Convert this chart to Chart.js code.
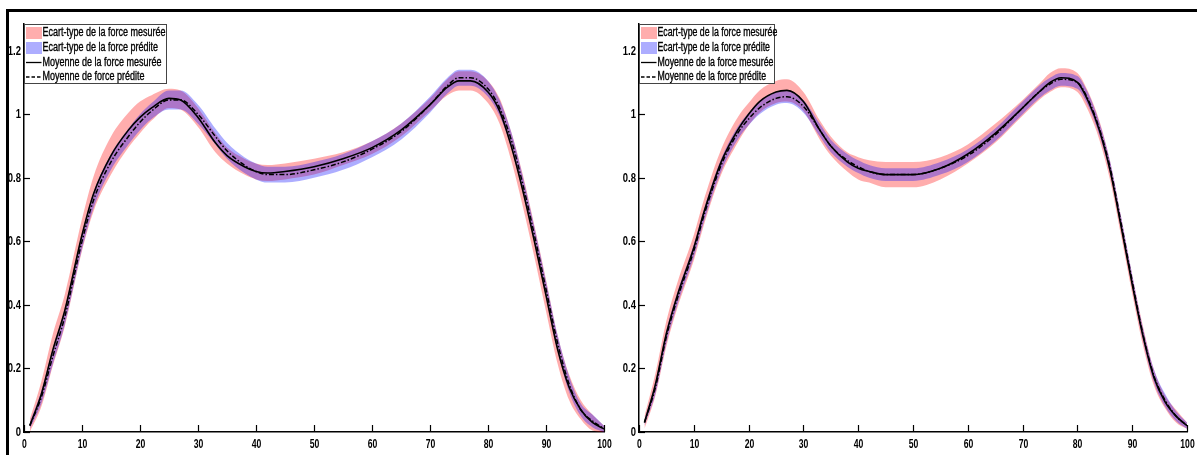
<!DOCTYPE html>
<html>
<head>
<meta charset="utf-8">
<script src="https://cdn.jsdelivr.net/npm/chart.js@4"></script>
<style>
  body { margin: 0; background: #fff; }
  #wrap { position: relative; width: 1197px; height: 455px; overflow: hidden; }
  #c1 { position: absolute; left: 0; top: 0; }
  #c2 { position: absolute; left: 615px; top: 0; }
  #frame { position: absolute; left: 6px; top: 9px; right: 0; bottom: -5px;
           border-top: 3px solid #000; border-left: 3px solid #000; pointer-events: none; }
</style>
</head>
<body>
<div id="wrap">
  <canvas id="c1" width="614" height="455"></canvas>
  <canvas id="c2" width="582" height="455"></canvas>
  <div id="frame"></div>
</div>
<script>
// Abscissa (% of cycle) shared by both panels
const xs = [1, 3, 5, 7, 10, 12, 15, 18, 20, 22, 25, 27, 30, 33, 35, 38, 40, 42, 45, 50,
            55, 60, 65, 70, 73, 75, 77, 80, 82, 84, 86, 88, 90, 92, 94, 96, 98, 100];

// Left panel
const measMeanL = [0.02, 0.12, 0.26, 0.38, 0.62, 0.75, 0.87, 0.95, 0.99, 1.02, 1.05, 1.045, 0.99, 0.91, 0.87, 0.835, 0.82, 0.815, 0.82, 0.835,
                   0.86, 0.895, 0.95, 1.03, 1.085, 1.105, 1.105, 1.07, 1.01, 0.9, 0.76, 0.6, 0.43, 0.26, 0.14, 0.07, 0.03, 0.01];
const measStdL  = [0.02, 0.04, 0.05, 0.05, 0.05, 0.055, 0.06, 0.055, 0.05, 0.04, 0.03, 0.03, 0.03, 0.03, 0.025, 0.025, 0.025, 0.025, 0.025, 0.025,
                   0.02, 0.02, 0.02, 0.02, 0.025, 0.03, 0.03, 0.035, 0.04, 0.045, 0.05, 0.05, 0.05, 0.045, 0.04, 0.03, 0.025, 0.01];
const predMeanL = [0.02, 0.11, 0.24, 0.36, 0.6, 0.73, 0.85, 0.93, 0.975, 1.01, 1.045, 1.045, 1.0, 0.93, 0.885, 0.84, 0.82, 0.81, 0.81, 0.825,
                   0.85, 0.89, 0.945, 1.03, 1.09, 1.115, 1.115, 1.08, 1.02, 0.92, 0.78, 0.62, 0.45, 0.28, 0.15, 0.07, 0.035, 0.01];
const predStdL  = [0.01, 0.02, 0.025, 0.025, 0.025, 0.025, 0.025, 0.025, 0.025, 0.025, 0.03, 0.03, 0.03, 0.025, 0.025, 0.025, 0.025, 0.025, 0.025, 0.025,
                   0.025, 0.025, 0.025, 0.025, 0.025, 0.025, 0.025, 0.025, 0.025, 0.025, 0.025, 0.025, 0.025, 0.025, 0.025, 0.02, 0.02, 0.01];

// Right panel
const measMeanR = [0.03, 0.15, 0.31, 0.43, 0.58, 0.7, 0.85, 0.95, 1.0, 1.04, 1.07, 1.075, 1.04, 0.95, 0.9, 0.85, 0.83, 0.82, 0.81, 0.81,
                   0.83, 0.875, 0.94, 1.02, 1.07, 1.1, 1.115, 1.1, 1.04, 0.95, 0.82, 0.645, 0.465, 0.3, 0.17, 0.095, 0.05, 0.02];
const measStdR  = [0.02, 0.035, 0.04, 0.04, 0.04, 0.04, 0.04, 0.04, 0.035, 0.035, 0.035, 0.035, 0.03, 0.03, 0.03, 0.03, 0.035, 0.035, 0.04, 0.04,
                   0.035, 0.03, 0.03, 0.025, 0.025, 0.03, 0.03, 0.03, 0.03, 0.03, 0.03, 0.03, 0.03, 0.03, 0.025, 0.02, 0.02, 0.01];
const predMeanR = [0.03, 0.14, 0.3, 0.42, 0.57, 0.69, 0.84, 0.94, 0.985, 1.02, 1.05, 1.055, 1.025, 0.95, 0.9, 0.855, 0.835, 0.82, 0.81, 0.81,
                   0.83, 0.87, 0.935, 1.02, 1.07, 1.095, 1.11, 1.1, 1.045, 0.955, 0.83, 0.655, 0.475, 0.305, 0.175, 0.1, 0.05, 0.02];
const predStdR  = [0.01, 0.02, 0.02, 0.02, 0.02, 0.02, 0.02, 0.02, 0.02, 0.02, 0.02, 0.02, 0.02, 0.02, 0.02, 0.02, 0.02, 0.02, 0.02, 0.02,
                   0.02, 0.02, 0.02, 0.02, 0.02, 0.02, 0.02, 0.02, 0.02, 0.02, 0.02, 0.02, 0.02, 0.02, 0.02, 0.02, 0.015, 0.01];

// Axis ticks
const xTicks = [0, 10, 20, 30, 40, 50, 60, 70, 80, 90, 100];
const yTicks = [0, 0.2, 0.4, 0.6, 0.8, 1, 1.2];

const labelsL = ['Ecart-type de la force mesurée', 'Ecart-type de la force prédite',
                 'Moyenne de la force mesurée', 'Moyenne de force prédite'];
const labelsR = ['Ecart-type de la force mesurée', 'Ecart-type de la force prédite',
                 'Moyenne de la force mesurée', 'Moyenne de la force prédite'];

const pink = 'rgba(255, 0, 0, 0.32)';
const blue = 'rgba(0, 0, 255, 0.32)';
const sans = '"Liberation Sans", Arial, sans-serif';

const pts = (ys) => xs.map((x, i) => ({ x, y: ys[i] }));
const band = (m, s, sign) => xs.map((x, i) => ({ x, y: m[i] + sign * s[i] }));

// squeezed text, the figure uses a narrow face
function narrowText(ctx, text, x, y, sx, align, stroke) {
    ctx.save();
    ctx.translate(x, y);
    ctx.scale(sx, 1);
    ctx.textAlign = align;
    ctx.fillText(text, 0, 0);
    if (stroke) {
        ctx.lineWidth = stroke;
        ctx.strokeStyle = ctx.fillStyle;
        ctx.strokeText(text, 0, 0);
    }
    ctx.restore();
}

// ticks drawn inside the axes, labels outside, like the original figure
const innerTicks = {
    id: 'innerTicks',
    afterDraw(chart) {
        const ctx = chart.ctx;
        const a = chart.chartArea;
        const sx = chart.scales.x, sy = chart.scales.y;
        ctx.save();
        ctx.strokeStyle = '#000';
        ctx.fillStyle = '#000';
        ctx.lineWidth = 1.2;
        ctx.font = 'bold 13.5px ' + sans;
        ctx.textBaseline = 'top';
        sx.ticks.forEach(t => {
            const px = Math.round(sx.getPixelForValue(t.value)) + 0.5;
            ctx.beginPath(); ctx.moveTo(px, a.bottom); ctx.lineTo(px, a.bottom - 7); ctx.stroke();
            narrowText(ctx, String(t.value), px, a.bottom + 6, 0.64, 'center');
        });
        ctx.textBaseline = 'middle';
        sy.ticks.forEach(t => {
            const py = Math.round(sy.getPixelForValue(t.value)) + 0.5;
            ctx.beginPath(); ctx.moveTo(a.left, py); ctx.lineTo(a.left + 6, py); ctx.stroke();
            narrowText(ctx, String(Math.round(t.value * 10) / 10), a.left - 3, py, 0.7, 'right');
        });
        ctx.restore();
    }
};

// boxed legend in the upper-left corner of the plot
const boxLegend = {
    id: 'boxLegend',
    afterDraw(chart, args, opts) {
        const ctx = chart.ctx;
        const a = chart.chartArea;
        const x0 = a.left + 0.5, y0 = a.top + 0.5, w = opts.width, h = 59;
        ctx.save();
        ctx.fillStyle = '#fff';
        ctx.fillRect(x0, y0, w, h);
        ctx.strokeStyle = '#444';
        ctx.lineWidth = 1;
        ctx.strokeRect(x0, y0, w, h);
        ctx.font = '12px ' + sans;
        ctx.textBaseline = 'middle';
        const rows = [8.5, 23.5, 38, 52.5];
        chart.data.datasets.filter(d => d.legendText)
            .sort((p, q) => p.legendRank - q.legendRank)
            .forEach((d, i) => {
                const cy = y0 + rows[i];
                if (d.legendKind === 'band') {
                    ctx.fillStyle = d.backgroundColor;
                    ctx.fillRect(x0 + 1.5, cy - 6, 16, 12);
                } else {
                    ctx.strokeStyle = '#000';
                    ctx.lineWidth = 1.3;
                    ctx.setLineDash(d.legendKind === 'dash' ? [3.5, 2] : []);
                    ctx.beginPath(); ctx.moveTo(x0 + 1.5, cy); ctx.lineTo(x0 + 17, cy); ctx.stroke();
                    ctx.setLineDash([]);
                }
                ctx.fillStyle = '#000';
                narrowText(ctx, d.legendText, x0 + 18, cy, opts.squeeze, 'left', 0.35);
            });
        ctx.restore();
    }
};

function makeChart(id, mM, mS, pM, pS, labels, padRight, legendWidth, squeeze) {
    return new Chart(document.getElementById(id), {
        type: 'line',
        data: {
            datasets: [
                { data: band(mM, mS, 1), backgroundColor: pink, borderWidth: 0, fill: '+1', order: 2,
                  legendText: labels[0], legendKind: 'band', legendRank: 0 },
                { data: band(mM, mS, -1), borderWidth: 0, fill: false, order: 2 },
                { data: band(pM, pS, 1), backgroundColor: blue, borderWidth: 0, fill: '+1', order: 1,
                  legendText: labels[1], legendKind: 'band', legendRank: 1 },
                { data: band(pM, pS, -1), borderWidth: 0, fill: false, order: 1 },
                { data: pts(mM), borderColor: '#000', borderWidth: 1.6, order: 0,
                  legendText: labels[2], legendKind: 'solid', legendRank: 2 },
                { data: pts(pM), borderColor: '#000', borderWidth: 1.5, borderDash: [5, 2, 1.5, 2], order: 0,
                  legendText: labels[3], legendKind: 'dash', legendRank: 3 }
            ]
        },
        options: {
            responsive: false,
            animation: false,
            devicePixelRatio: 1,
            layout: { padding: { top: 24, right: padRight, left: 0, bottom: 0 } },
            elements: {
                point: { radius: 0 },
                line: { cubicInterpolationMode: 'monotone' }
            },
            plugins: {
                legend: { display: false },
                tooltip: { enabled: false },
                boxLegend: { width: legendWidth, squeeze }
            },
            scales: {
                x: {
                    type: 'linear', min: 0, max: 100,
                    afterFit: s => { s.height = 23; s.paddingLeft = 0; s.paddingRight = 0; },
                    afterBuildTicks: s => { s.ticks = xTicks.map(v => ({ value: v })); },
                    grid: { drawOnChartArea: false, drawTicks: false, color: 'transparent' },
                    border: { display: true, color: '#000', width: 1.5 },
                    ticks: { display: false }
                },
                y: {
                    min: 0, max: 1.284,
                    afterFit: s => { s.width = 24; s.paddingTop = 0; s.paddingBottom = 0; },
                    afterBuildTicks: s => { s.ticks = yTicks.map(v => ({ value: v })); },
                    grid: { drawOnChartArea: false, drawTicks: false, color: 'transparent' },
                    border: { display: true, color: '#000', width: 1.5 },
                    ticks: { display: false }
                }
            }
        },
        plugins: [innerTicks, boxLegend]
    });
}

makeChart('c1', measMeanL, measStdL, predMeanL, predStdL, labelsL, 10, 142, 0.75);
makeChart('c2', measMeanR, measStdR, predMeanR, predStdR, labelsR, 10, 135, 0.73);
</script>
</body>
</html>
